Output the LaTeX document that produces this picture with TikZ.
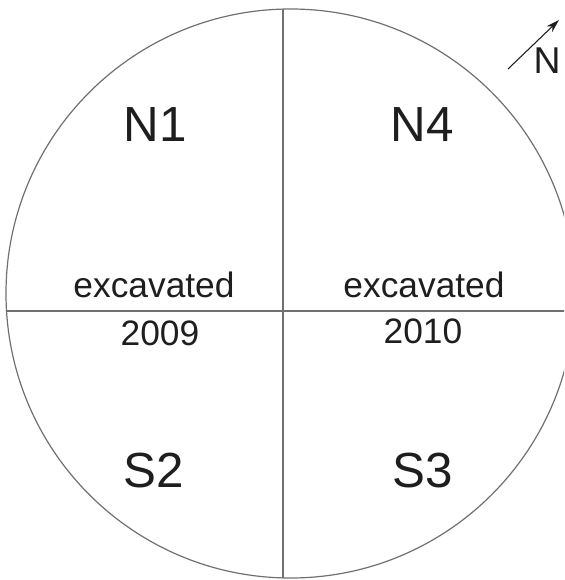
\documentclass[tikz,border=0pt]{standalone}
\usepackage{fontspec}
\setmainfont{Liberation Sans}
\usetikzlibrary{arrows.meta}
\definecolor{plInk}{HTML}{1E1E1E}
\definecolor{plLine}{HTML}{707070}
\tikzset{
  plsector/.style={
    text=plInk,
    font=\fontsize{37}{37}\selectfont,
    inner sep=0pt,
    anchor=base
  },
  plnote/.style={
    text=plInk,
    font=\fontsize{26.5}{26.5}\selectfont,
    inner sep=0pt,
    anchor=base
  },
  plline/.style={draw=plLine, line width=0.9pt},
  plarrow/.style={-{Stealth[length=10pt,width=6pt]}, draw=plInk, line width=0.8pt}
}
\begin{document}
\begin{tikzpicture}[x=0.75pt,y=-0.75pt]
  \useasboundingbox (0,0) rectangle (564,580);
  \clip (0,0) rectangle (564,580);

  % pit outline and the two cross sections
  \coordinate (pit) at (290.5,293.5);
  \draw[plline] (pit) circle[radius=284.5];
  \begin{scope}
    \clip (pit) circle[radius=284.5];
    \draw[plline] (283,0) -- (283,580);
    \draw[plline] (0,311) -- (580,311);
  \end{scope}

  \node[plsector] (n1) at (155,142) {N1};
  \node[plsector] (n4) at (422,142) {N4};
  \node[plsector] (s2) at (154,487) {S2};
  \node[plsector] (s3) at (423,487) {S3};

  \node[plnote] (exwest) at (154,297) {excavated};
  \node[plnote] (yrwest) at (160,345) {2009};
  \node[plnote] (exeast) at (424,297) {excavated};
  \node[plnote] (yreast) at (423,343) {2010};

  % north arrow
  \coordinate (tail) at (508,69);
  \coordinate (tip) at (559,20);
  \draw[plarrow] (tail) -- (tip);
  \node[plnote, font=\fontsize{28}{28}\selectfont] (north) at (547,74) {N};
\end{tikzpicture}
\end{document}
